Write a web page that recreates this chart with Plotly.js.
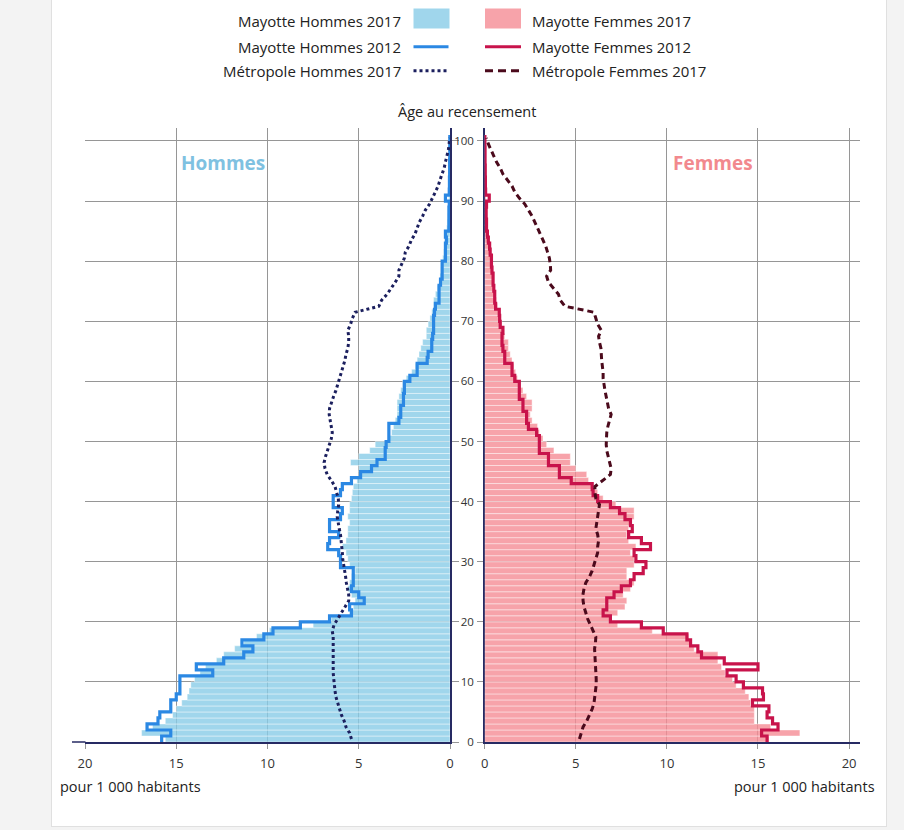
<!DOCTYPE html>
<html><head><meta charset="utf-8">
<script src="https://cdn.plot.ly/plotly-3.0.1.min.js"></script>
<style>
html,body{margin:0;padding:0;background:#f3f3f3;}
#wrap{position:relative;width:904px;height:830px;overflow:hidden;}
#card{position:absolute;left:51px;top:-2px;width:836px;height:829px;background:#fff;border:1px solid #e0e0e0;box-sizing:border-box;}
#chart{position:absolute;left:0;top:0;width:904px;height:830px;}
</style></head><body>
<div id="wrap"><div id="card"></div><div id="chart"></div></div>
<script>
const ages = [0,1,2,3,4,5,6,7,8,9,10,11,12,13,14,15,16,17,18,19,20,21,22,23,24,25,26,27,28,29,30,31,32,33,34,35,36,37,38,39,40,41,42,43,44,45,46,47,48,49,50,51,52,53,54,55,56,57,58,59,60,61,62,63,64,65,66,67,68,69,70,71,72,73,74,75,76,77,78,79,80,81,82,83,84,85,86,87,88,89,90,91,92,93,94,95,96,97,98,99,100];

const mayotteHommes2017 = [15.6,16.9,16.3,15.6,15.2,15.0,14.7,14.4,14.3,14.2,
 14.0,13.7,13.4,12.8,12.4,11.8,11.3,10.6,9.9,7.5,
 6.5,5.5,5.3,5.2,5.4,5.6,5.5,5.4,5.2,5.5,
 5.6,5.7,5.9,5.7,5.6,5.6,5.5,5.6,5.5,5.5,
 5.4,5.35,5.3,5.1,5.0,5.0,5.45,5.0,4.4,4.1,
 3.4,3.2,3.1,3.0,2.9,2.9,2.9,2.8,2.7,2.6,
 2.4,2.1,1.9,1.8,1.7,1.6,1.5,1.3,1.3,1.2,
 1.1,1.0,0.9,0.9,0.8,0.7,0.6,0.55,0.5,0.45,
 0.4,0.35,0.3,0.25,0.2,0.18,0.15,0.12,0.1,0.08,
 0.07,0.05,0.04,0.03,0.03,0.02,0.02,0.01,0.01,0.01,0.01];

const mayotteHommes2012 = [15.8,15.3,16.6,16.0,15.9,15.3,15.3,15.0,14.8,14.8,
 14.8,13.0,13.9,12.4,11.3,10.8,11.4,10.2,9.7,8.2,
 6.6,5.4,5.5,4.7,5.0,5.4,5.3,5.3,5.3,6.0,
 6.0,6.1,6.7,6.6,6.1,6.6,6.6,6.0,5.9,6.4,
 6.4,6.0,5.9,5.4,4.9,4.3,4.0,3.55,3.55,3.5,
 3.35,3.35,3.35,2.8,2.7,2.7,2.55,2.55,2.5,2.5,
 2.2,1.8,1.8,1.25,1.2,1.0,1.0,0.95,0.9,0.9,
 0.9,0.85,0.8,0.6,0.6,0.6,0.52,0.43,0.43,0.43,
 0.25,0.25,0.25,0.2,0.25,0.06,0.06,0.06,0.06,0.04,
 0.25,0.04,0.03,0.03,0.02,0.02,0.02,0.01,0.01,0.01,0.01];

const metropoleHommes2017 = [5.4,5.5,5.7,5.8,5.95,6.05,6.15,6.25,6.3,6.35,
 6.37,6.4,6.4,6.4,6.38,6.38,6.37,6.4,6.45,6.35,
 6.15,5.95,5.72,5.55,5.55,5.63,5.68,5.72,5.78,5.82,
 5.88,5.9,5.92,5.95,6.0,6.07,6.12,6.18,6.15,6.1,
 6.12,6.2,6.3,6.5,6.73,6.85,6.9,6.82,6.7,6.58,
 6.5,6.45,6.5,6.55,6.62,6.6,6.5,6.38,6.25,6.15,
 6.02,5.92,5.82,5.76,5.7,5.6,5.55,5.55,5.6,5.45,
 5.35,5.2,3.9,3.75,3.45,3.2,3.0,2.8,2.8,2.65,
 2.5,2.45,2.25,2.12,1.92,1.8,1.68,1.5,1.35,1.12,
 0.95,0.8,0.65,0.55,0.43,0.32,0.25,0.15,0.09,0.05,0.02];

const mayotteFemmes2017 = [15.6,17.3,15.7,14.8,14.8,14.8,14.6,14.5,14.3,13.8,
 13.6,13.2,13.0,12.8,12.8,11.5,11.3,11.2,9.2,7.3,
 6.9,7.3,7.7,7.8,7.6,8.0,8.2,7.8,7.8,8.2,
 8.2,8.0,8.3,7.9,7.8,7.9,8.0,8.2,8.2,7.2,
 6.5,6.2,5.9,5.7,5.6,5.0,4.7,4.7,3.8,3.4,
 3.2,3.0,2.9,2.6,2.5,2.6,2.6,2.3,2.1,1.9,
 1.8,1.7,1.6,1.5,1.4,1.3,1.3,1.1,1.0,0.95,
 0.9,0.85,0.7,0.65,0.6,0.55,0.5,0.5,0.45,0.4,
 0.38,0.34,0.3,0.25,0.2,0.18,0.15,0.12,0.1,0.08,
 0.07,0.05,0.05,0.04,0.03,0.03,0.02,0.02,0.01,0.01,0.01];

const mayotteFemmes2012 = [15.5,15.2,16.1,15.8,15.5,15.6,14.7,15.3,15.25,14.2,
 13.8,13.3,15.0,13.15,11.9,11.7,11.3,11.1,9.8,8.6,
 6.9,6.5,6.7,6.7,7.1,7.5,8.0,8.2,8.7,8.85,
 8.3,8.2,9.1,8.6,7.9,8.1,8.0,7.7,7.4,6.9,
 6.2,5.95,5.9,4.75,4.1,4.1,3.5,3.5,3.0,3.0,
 3.0,2.85,2.4,2.3,2.3,2.1,2.1,1.9,1.9,1.9,
 1.65,1.5,1.5,1.1,1.1,1.0,0.95,0.95,1.0,0.85,
 0.82,0.8,0.6,0.55,0.55,0.5,0.46,0.46,0.4,0.37,
 0.37,0.3,0.27,0.2,0.15,0.1,0.1,0.08,0.08,0.1,
 0.25,0.05,0.04,0.04,0.03,0.03,0.02,0.02,0.02,0.01,0.01];

const metropoleFemmes2017 = [5.2,5.3,5.4,5.6,5.75,5.9,6.0,6.05,6.1,6.12,
 6.12,6.1,6.05,6.03,6.03,6.03,6.08,6.1,5.95,5.8,
 5.65,5.55,5.45,5.4,5.39,5.45,5.55,5.75,5.9,6.0,
 6.1,6.2,6.2,6.25,6.2,6.1,6.15,6.2,6.25,6.3,
 6.1,6.05,6.05,6.5,6.9,6.94,6.85,6.76,6.7,6.67,
 6.67,6.7,6.76,6.85,6.94,6.8,6.72,6.65,6.6,6.55,
 6.5,6.5,6.45,6.42,6.4,6.38,6.3,6.25,6.4,6.2,
 6.1,6.0,4.4,4.15,4.05,3.8,3.5,3.4,3.62,3.6,
 3.55,3.45,3.35,3.2,3.05,2.9,2.75,2.6,2.4,2.2,
 1.9,1.65,1.5,1.25,1.0,0.85,0.65,0.5,0.35,0.2,0.1];

const xTicks = [0,5,10,15,20];
const yTicks = [0,10,20,30,40,50,60,70,80,90,100];
const legendLabels = ['Mayotte Hommes 2017','Mayotte Hommes 2012','Métropole Hommes 2017',
                      'Mayotte Femmes 2017','Mayotte Femmes 2012','Métropole Femmes 2017'];

// colours
const cBlueBar = 'rgba(136,204,231,0.8)';
const cPinkBar = 'rgba(245,140,149,0.8)';
const cBlue = '#2b88e3';
const cRed = '#c8134b';
const cNavy = '#1b1f5e';
const cMaroon = '#4b0a1c';
const cGrid = '#969696';
const cAxis = '#262a63';

const W = 904, H = 830;
const px = v => v / W;
const py = v => 1 - v / H;

// step lines: value of age a drawn over [a, a+1]
const stepY = a => a.concat([a[a.length - 1] + 1]);
const stepX = v => v.concat([v[v.length - 1]]);
const midY = ages.map(a => a + 0.5);

const barLine = {color: 'rgba(255,255,255,0.7)', width: 0.6};

const traces = [
  {type: 'bar', orientation: 'h', x: mayotteHommes2017, y: ages, width: 1, offset: 0,
   marker: {color: cBlueBar, line: barLine}, xaxis: 'x', yaxis: 'y', name: legendLabels[0], hoverinfo: 'x+y'},
  {type: 'scatter', mode: 'lines', x: stepX(mayotteHommes2012), y: stepY(ages),
   line: {color: cBlue, width: 3.2, shape: 'vh'}, xaxis: 'x', yaxis: 'y', name: legendLabels[1]},
  {type: 'scatter', mode: 'lines', x: metropoleHommes2017, y: midY,
   line: {color: cNavy, width: 3, dash: 'dot'}, xaxis: 'x', yaxis: 'y', name: legendLabels[2]},
  {type: 'bar', orientation: 'h', x: mayotteFemmes2017, y: ages, width: 1, offset: 0,
   marker: {color: cPinkBar, line: barLine}, xaxis: 'x2', yaxis: 'y2', name: legendLabels[3], hoverinfo: 'x+y'},
  {type: 'scatter', mode: 'lines', x: stepX(mayotteFemmes2012), y: stepY(ages),
   line: {color: cRed, width: 3.2, shape: 'vh'}, xaxis: 'x2', yaxis: 'y2', name: legendLabels[4]},
  {type: 'scatter', mode: 'lines', x: metropoleFemmes2017, y: midY,
   line: {color: cMaroon, width: 3, dash: '6px,4px'}, xaxis: 'x2', yaxis: 'y2', name: legendLabels[5]}
];

const xCommon = {
  tickvals: xTicks, ticks: 'outside', ticklen: 5, tickcolor: cGrid,
  showgrid: true, gridcolor: cGrid, gridwidth: 1, zeroline: false,
  showline: true, linecolor: cAxis, linewidth: 1.5,
  tickfont: {size: 13, color: '#333'}, ticklabelstandoff: 4, fixedrange: true
};
const yCommon = {
  range: [0, 102.16], domain: [py(742), py(128)], tickvals: yTicks,
  ticks: 'outside', tickcolor: cGrid, showgrid: true, gridcolor: cGrid, gridwidth: 1,
  zeroline: false, showline: true, linecolor: cAxis, linewidth: 1.5,
  layer: 'below traces', fixedrange: true
};

const legendRows = [20.7, 46.7, 70.7];
const annotations = [];
for (let i = 0; i < 3; i++) {
  annotations.push({text: legendLabels[i], x: px(403), y: py(legendRows[i]), xref: 'paper', yref: 'paper',
    xanchor: 'right', yanchor: 'middle', showarrow: false, font: {size: 15, color: '#222'}});
  annotations.push({text: legendLabels[i + 3], x: px(530), y: py(legendRows[i]), xref: 'paper', yref: 'paper',
    xanchor: 'left', yanchor: 'middle', showarrow: false, font: {size: 15, color: '#222'}});
}
annotations.push(
  {text: 'Âge au recensement', x: px(467), y: py(111.5), xref: 'paper', yref: 'paper', xanchor: 'center', yanchor: 'middle',
   showarrow: false, font: {size: 14.5, color: '#222'}},
  {text: '<b>Hommes</b>', x: px(223), y: py(163), xref: 'paper', yref: 'paper', xanchor: 'center', yanchor: 'middle',
   showarrow: false, font: {size: 19, color: '#7fc1e1'}},
  {text: '<b>Femmes</b>', x: px(713), y: py(163), xref: 'paper', yref: 'paper', xanchor: 'center', yanchor: 'middle',
   showarrow: false, font: {size: 19, color: '#f2898e'}},
  {text: 'pour 1 000 habitants', x: px(58), y: py(786.5), xref: 'paper', yref: 'paper', xanchor: 'left', yanchor: 'middle',
   showarrow: false, font: {size: 14.5, color: '#222'}},
  {text: 'pour 1 000 habitants', x: px(877), y: py(786.5), xref: 'paper', yref: 'paper', xanchor: 'right', yanchor: 'middle',
   showarrow: false, font: {size: 14.5, color: '#222'}}
);

const shapes = [
  {type: 'rect', xref: 'paper', yref: 'paper', x0: px(413.5), x1: px(449.5), y0: py(28.5), y1: py(8.5), fillcolor: cBlueBar, line: {width: 0}},
  {type: 'rect', xref: 'paper', yref: 'paper', x0: px(485), x1: px(521), y0: py(28.5), y1: py(8.5), fillcolor: cPinkBar, line: {width: 0}},
  {type: 'line', xref: 'paper', yref: 'paper', x0: px(413.5), x1: px(448.5), y0: py(46.7), y1: py(46.7), line: {color: cBlue, width: 3}},
  {type: 'line', xref: 'paper', yref: 'paper', x0: px(485), x1: px(521), y0: py(46.7), y1: py(46.7), line: {color: cRed, width: 3}},
  {type: 'line', xref: 'paper', yref: 'paper', x0: px(413.5), x1: px(448.5), y0: py(70.7), y1: py(70.7), line: {color: cNavy, width: 3, dash: 'dot'}},
  {type: 'line', xref: 'paper', yref: 'paper', x0: px(485), x1: px(521), y0: py(70.7), y1: py(70.7), line: {color: cMaroon, width: 3, dash: '8px,5px'}},
  // bottom axis line continues slightly beyond the 20 gridline on the left
  {type: 'line', xref: 'paper', yref: 'paper', x0: px(72), x1: px(85.5), y0: py(742), y1: py(742), line: {color: cAxis, width: 1.5}}
];

const layout = {
  width: W, height: H, margin: {l: 0, r: 0, t: 0, b: 0},
  paper_bgcolor: 'rgba(0,0,0,0)', plot_bgcolor: 'rgba(0,0,0,0)',
  showlegend: false, bargap: 0,
  font: {family: '"Open Sans", sans-serif', color: '#222'},
  xaxis: Object.assign({}, xCommon, {domain: [px(85), px(450)], range: [20, 0], anchor: 'y'}),
  xaxis2: Object.assign({}, xCommon, {domain: [px(484.7), px(860)], range: [0, 20.6], anchor: 'y2'}),
  yaxis: Object.assign({}, yCommon, {anchor: 'x', side: 'right', ticklen: 7, showticklabels: false}),
  yaxis2: Object.assign({}, yCommon, {anchor: 'x2', side: 'left', ticklen: 6, showticklabels: true,
    tickfont: {size: 11.5, color: '#333'}, ticklabelstandoff: 1}),
  annotations: annotations,
  shapes: shapes
};

Plotly.newPlot('chart', traces, layout, {displayModeBar: false, staticPlot: true});
</script>
</body></html>
